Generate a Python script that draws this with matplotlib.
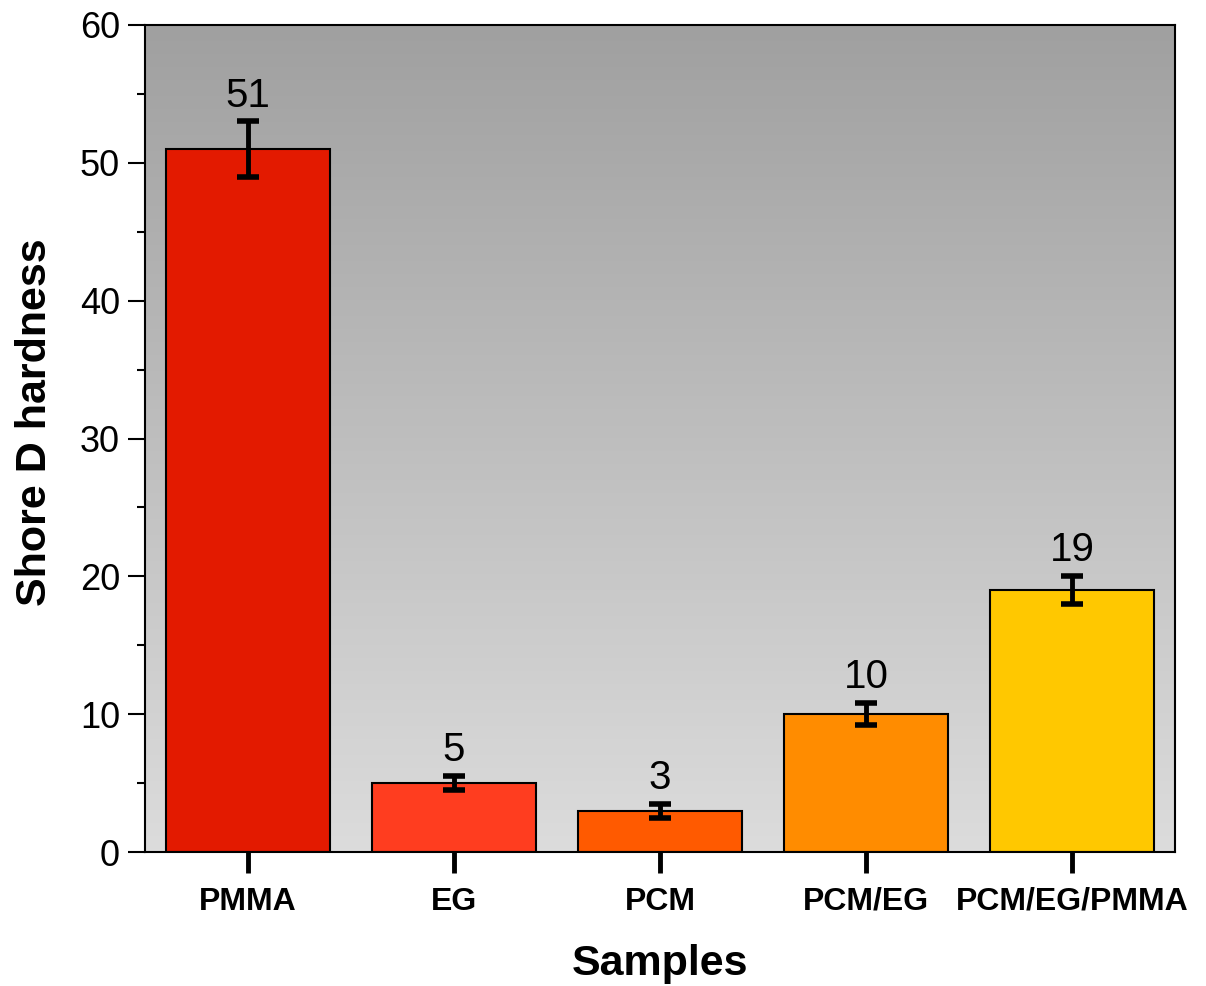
import numpy as np
import matplotlib
matplotlib.use("Agg")
import matplotlib.pyplot as plt
from matplotlib.ticker import MultipleLocator

plt.rcParams["font.family"] = ["Liberation Sans", "DejaVu Sans"]

# Data
samples = ["PMMA", "EG", "PCM", "PCM/EG", "PCM/EG/PMMA"]
hardness = [51, 5, 3, 10, 19]
errors = [2, 0.5, 0.5, 0.8, 1]
bar_colors = ["#E31A00", "#FF3D1F", "#FF5A00", "#FF8C00", "#FFC800"]

fig = plt.figure(figsize=(12.06, 9.86), dpi=100)
ax = fig.add_axes([145 / 1206, 1 - 852 / 986, (1175 - 145) / 1206, (852 - 25) / 986])

# Grey vertical gradient background, darker at the top
grad = np.linspace(0, 1, 256).reshape(-1, 1)
ax.imshow(grad, cmap=matplotlib.colors.LinearSegmentedColormap.from_list(
    "bg", ["#A0A0A0", "#DCDCDC"]), aspect="auto",
    extent=[0, 1, 0, 1], transform=ax.transAxes, zorder=0)

x = np.arange(len(samples))
ax.bar(x, hardness, width=0.8, color=bar_colors, edgecolor="black",
       linewidth=1.5, zorder=2)
ax.errorbar(x, hardness, yerr=errors, fmt="none", ecolor="black",
            elinewidth=3.5, capsize=8, capthick=4, zorder=3)

for xi, v, e in zip(x, hardness, errors):
    ax.annotate(str(v), (xi, v + e), xytext=(0, 5), textcoords="offset points",
                ha="center", va="bottom", fontsize=29)

ax.set_xlim(-0.5, 4.5)
ax.set_ylim(0, 60)
ax.set_xticks(x)
ax.set_xticklabels(samples, fontsize=23, fontweight="bold")
ax.yaxis.set_major_locator(MultipleLocator(10))
ax.yaxis.set_minor_locator(MultipleLocator(5))
ax.tick_params(axis="y", which="major", direction="out", length=12, width=1.5,
               labelsize=26, pad=6)
ax.tick_params(axis="y", which="minor", direction="out", length=6, width=1.5)
ax.tick_params(axis="x", which="major", direction="out", length=15, width=3.5,
               pad=10)

for s in ax.spines.values():
    s.set_linewidth(1.5)

ax.set_ylabel("Shore D hardness", fontsize=31, fontweight="bold", labelpad=18)
ax.yaxis.label.set_y(0.52)
ax.set_xlabel("Samples", fontsize=31, fontweight="bold", labelpad=20)

fig.savefig("out.png", dpi=100)
